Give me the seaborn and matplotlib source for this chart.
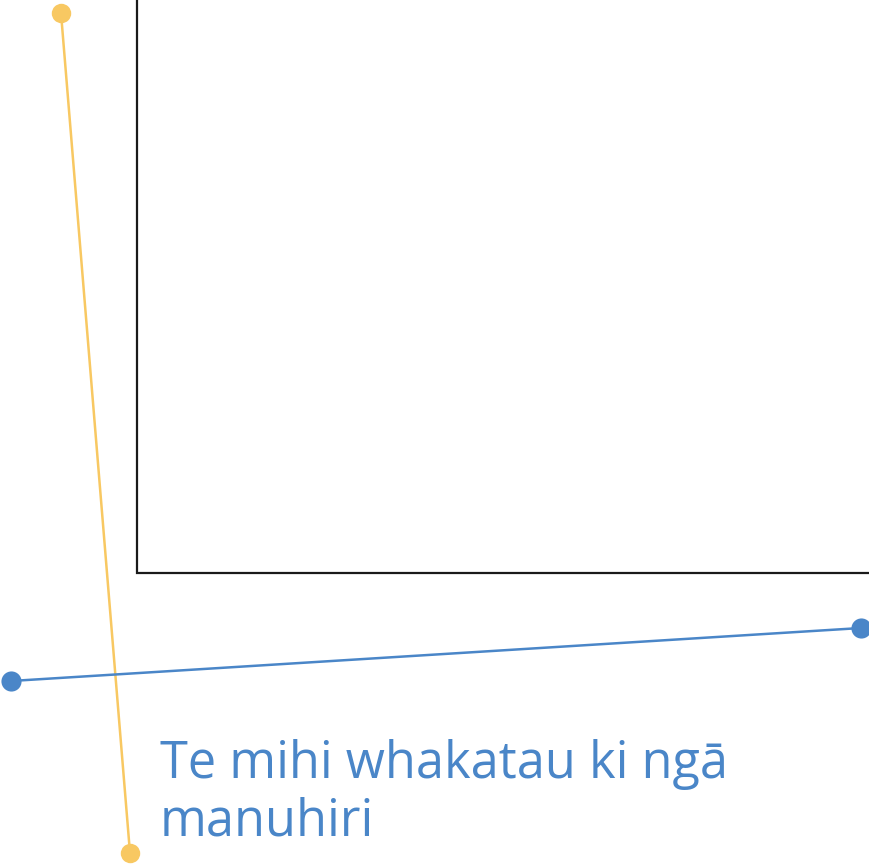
import matplotlib
matplotlib.use("Agg")
import matplotlib.pyplot as plt
import seaborn as sns
import pandas as pd

# pixel-space coordinates (y grows downward)
yellow_x = [61, 130]
yellow_y = [13, 853]
blue_x = [11, 861]
blue_y = [681, 628]
box_x = [137, 137, 869]
box_y = [0, 573, 573]
label = "Te mihi whakatau ki ngā\nmanuhiri"

W, H = 869, 866

sns.set_theme(style="white")
plt.rcParams['font.family'] = ['Open Sans', 'DejaVu Sans']

fig = plt.figure(figsize=(W / 100, H / 100), dpi=100)
ax = fig.add_axes([0, 0, 1, 1])

ax.plot(box_x, box_y, color='#1a1a1a', lw=1.6, solid_joinstyle='miter')

yellow = pd.DataFrame({'x': yellow_x, 'y': yellow_y})
blue = pd.DataFrame({'x': blue_x, 'y': blue_y})
sns.lineplot(data=yellow, x='x', y='y', sort=False, color='#F8C862', lw=1.8,
             marker='o', markersize=14, markeredgewidth=0, ax=ax)
sns.lineplot(data=blue, x='x', y='y', sort=False, color='#4A86C8', lw=1.8,
             marker='o', markersize=14.5, markeredgewidth=0, ax=ax)

# baseline alignment of a two-line text follows the last line
ax.text(160, 836, label, color='#4A86C8', fontsize=36.4, ha='left', va='baseline',
        linespacing=1.17)

ax.set_xlim(0, W)
ax.set_ylim(H, 0)
ax.set_axis_off()

plt.savefig('out.png', dpi=100)
plt.close()
